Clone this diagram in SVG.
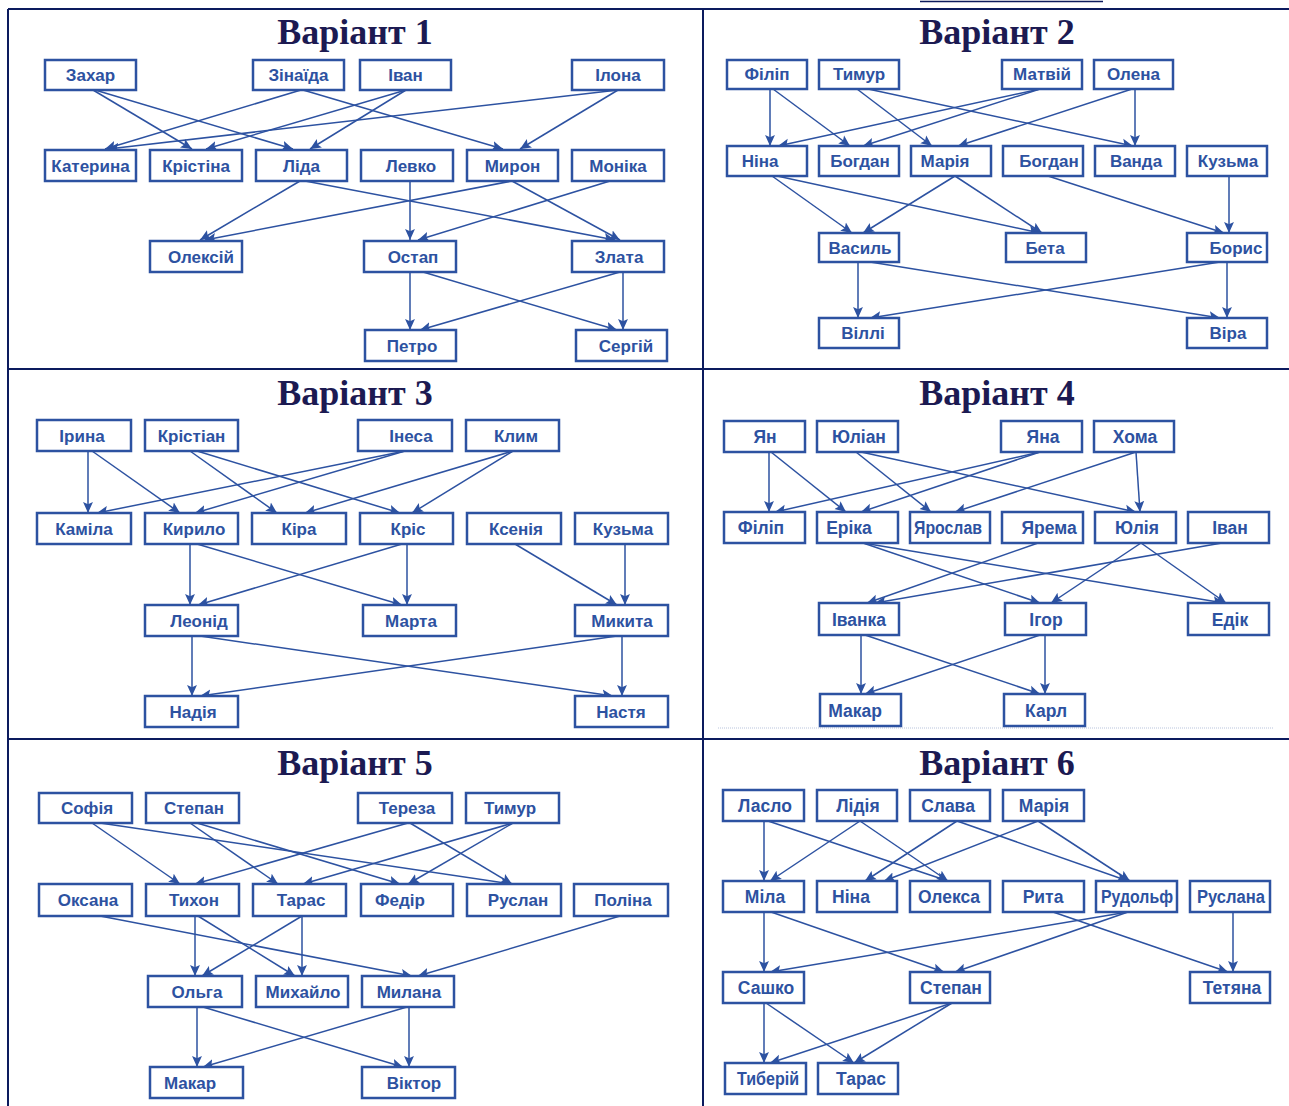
<svg xmlns="http://www.w3.org/2000/svg" width="1289" height="1106" viewBox="0 0 1289 1106">
  <style>
    .grid { stroke: #0c1b5e; stroke-width: 2; fill: none; }
    .title { font-family: "Liberation Serif", "Times New Roman", serif; font-weight: bold; font-size: 36px; fill: #1c1a52; text-anchor: middle; }
    .node rect { fill: #ffffff; stroke: #2d52a1; stroke-width: 2.5; }
    .node text { font-family: "Liberation Sans", Arial, sans-serif; font-weight: bold; font-size: 17px; fill: #2d52a1; text-anchor: middle; }
    .narrow text { font-size: 17.5px; }
    .edges line { stroke: #2d52a1; stroke-width: 1.5; marker-end: url(#arrow); }
  </style>
  <defs>
    <marker id="arrow" viewBox="0 0 10 10" refX="10" refY="5" markerWidth="11" markerHeight="11" markerUnits="userSpaceOnUse" orient="auto">
      <path d="M0,0.5 L10,5 L0,9.5 L2,5 z" fill="#2d52a1"/>
    </marker>
  </defs>
  <rect width="1289" height="1106" fill="#ffffff"/>

  <!-- table frame -->
  <g id="frame" class="grid">
    <line x1="920" y1="1.5" x2="1103" y2="1.5" stroke-width="1.5"/>
    <line x1="8" y1="9" x2="1289" y2="9"/>
    <line x1="8" y1="9" x2="8" y2="1106"/>
    <line x1="703" y1="9" x2="703" y2="1106"/>
    <line x1="8" y1="369" x2="1289" y2="369"/>
    <line x1="8" y1="739" x2="1289" y2="739"/>
    <line x1="718" y1="728" x2="1273" y2="728" stroke="#b9c4dc" stroke-width="1" stroke-dasharray="1 1"/>
  </g>

  <!-- headings -->
  <g id="titles">
    <text class="title" x="355" y="44">Варіант 1</text>
    <text class="title" x="997" y="44">Варіант 2</text>
    <text class="title" x="355" y="405">Варіант 3</text>
    <text class="title" x="997" y="405">Варіант 4</text>
    <text class="title" x="355" y="775">Варіант 5</text>
    <text class="title" x="997" y="775">Варіант 6</text>
  </g>

  <!-- connectors -->
  <g id="connectors" class="edges">
    <!-- variant 1 -->
    <line x1="93" y1="90" x2="192" y2="149"/>
    <line x1="95" y1="90" x2="293" y2="149"/>
    <line x1="301" y1="90" x2="105" y2="149"/>
    <line x1="303" y1="90" x2="503" y2="149"/>
    <line x1="406" y1="90" x2="206" y2="149"/>
    <line x1="406" y1="90" x2="310" y2="149"/>
    <line x1="618" y1="90" x2="108" y2="149"/>
    <line x1="618" y1="90" x2="520" y2="149"/>
    <line x1="300" y1="181" x2="200" y2="240"/>
    <line x1="305" y1="181" x2="615" y2="240"/>
    <line x1="512" y1="181" x2="205" y2="240"/>
    <line x1="512" y1="181" x2="620" y2="240"/>
    <line x1="410" y1="181" x2="410" y2="240"/>
    <line x1="610" y1="181" x2="418" y2="240"/>
    <line x1="410" y1="272" x2="410" y2="330"/>
    <line x1="423" y1="272" x2="617" y2="330"/>
    <line x1="623" y1="272" x2="623" y2="330"/>
    <line x1="620" y1="272" x2="420" y2="330"/>
    <!-- variant 2 -->
    <line x1="770" y1="89" x2="770" y2="146"/>
    <line x1="773" y1="89" x2="850" y2="146"/>
    <line x1="857" y1="89" x2="932" y2="146"/>
    <line x1="868" y1="89" x2="1133" y2="146"/>
    <line x1="1040" y1="89" x2="778" y2="146"/>
    <line x1="1040" y1="89" x2="863" y2="146"/>
    <line x1="1135" y1="89" x2="1135" y2="146"/>
    <line x1="1132" y1="89" x2="958" y2="146"/>
    <line x1="772" y1="176" x2="852" y2="233"/>
    <line x1="777" y1="176" x2="1040" y2="233"/>
    <line x1="955" y1="176" x2="863" y2="233"/>
    <line x1="955" y1="176" x2="1042" y2="233"/>
    <line x1="1048" y1="176" x2="1224" y2="233"/>
    <line x1="1229" y1="176" x2="1229" y2="233"/>
    <line x1="858" y1="262" x2="858" y2="318"/>
    <line x1="870" y1="262" x2="1220" y2="318"/>
    <line x1="1227" y1="262" x2="1227" y2="318"/>
    <line x1="1220" y1="262" x2="870" y2="318"/>
    <!-- variant 3 -->
    <line x1="88" y1="451" x2="88" y2="513"/>
    <line x1="92" y1="451" x2="180" y2="513"/>
    <line x1="190" y1="451" x2="277" y2="513"/>
    <line x1="197" y1="451" x2="400" y2="513"/>
    <line x1="405" y1="451" x2="97" y2="513"/>
    <line x1="405" y1="451" x2="195" y2="513"/>
    <line x1="513" y1="451" x2="305" y2="513"/>
    <line x1="513" y1="451" x2="412" y2="513"/>
    <line x1="190" y1="544" x2="190" y2="605"/>
    <line x1="197" y1="544" x2="402" y2="605"/>
    <line x1="402" y1="544" x2="198" y2="605"/>
    <line x1="407" y1="544" x2="407" y2="605"/>
    <line x1="515" y1="544" x2="617" y2="605"/>
    <line x1="625" y1="544" x2="625" y2="605"/>
    <line x1="192" y1="636" x2="192" y2="696"/>
    <line x1="200" y1="636" x2="613" y2="696"/>
    <line x1="622" y1="636" x2="622" y2="696"/>
    <line x1="617" y1="636" x2="200" y2="696"/>
    <!-- variant 4 -->
    <line x1="769" y1="452" x2="769" y2="512"/>
    <line x1="771" y1="452" x2="846" y2="512"/>
    <line x1="856" y1="452" x2="931" y2="512"/>
    <line x1="861" y1="452" x2="1136" y2="512"/>
    <line x1="1040" y1="452" x2="775" y2="512"/>
    <line x1="1040" y1="452" x2="861" y2="512"/>
    <line x1="1136" y1="452" x2="1140" y2="512"/>
    <line x1="1136" y1="452" x2="955" y2="512"/>
    <line x1="863" y1="543" x2="1040" y2="603"/>
    <line x1="863" y1="543" x2="1224" y2="603"/>
    <line x1="1038" y1="543" x2="867" y2="603"/>
    <line x1="1222" y1="543" x2="875" y2="603"/>
    <line x1="1141" y1="543" x2="1051" y2="603"/>
    <line x1="1141" y1="543" x2="1226" y2="603"/>
    <line x1="861" y1="635" x2="861" y2="694"/>
    <line x1="865" y1="635" x2="1040" y2="694"/>
    <line x1="1045" y1="635" x2="1045" y2="694"/>
    <line x1="1040" y1="635" x2="865" y2="694"/>
    <!-- variant 5 -->
    <line x1="92" y1="823" x2="180" y2="884"/>
    <line x1="100" y1="823" x2="512" y2="884"/>
    <line x1="190" y1="823" x2="278" y2="884"/>
    <line x1="197" y1="823" x2="400" y2="884"/>
    <line x1="408" y1="823" x2="195" y2="884"/>
    <line x1="410" y1="823" x2="512" y2="884"/>
    <line x1="513" y1="823" x2="303" y2="884"/>
    <line x1="513" y1="823" x2="408" y2="884"/>
    <line x1="100" y1="916" x2="412" y2="976"/>
    <line x1="620" y1="916" x2="418" y2="976"/>
    <line x1="195" y1="916" x2="195" y2="976"/>
    <line x1="198" y1="916" x2="295" y2="976"/>
    <line x1="302" y1="916" x2="202" y2="976"/>
    <line x1="302" y1="916" x2="302" y2="976"/>
    <line x1="197" y1="1007" x2="197" y2="1067"/>
    <line x1="203" y1="1007" x2="403" y2="1067"/>
    <line x1="407" y1="1007" x2="203" y2="1067"/>
    <line x1="409" y1="1007" x2="409" y2="1067"/>
    <!-- variant 6 -->
    <line x1="764" y1="821" x2="764" y2="881"/>
    <line x1="768" y1="821" x2="948" y2="881"/>
    <line x1="860" y1="821" x2="770" y2="881"/>
    <line x1="860" y1="821" x2="948" y2="881"/>
    <line x1="957" y1="821" x2="865" y2="881"/>
    <line x1="957" y1="821" x2="1128" y2="881"/>
    <line x1="1038" y1="821" x2="884" y2="881"/>
    <line x1="1038" y1="821" x2="1130" y2="881"/>
    <line x1="764" y1="912" x2="764" y2="972"/>
    <line x1="771" y1="912" x2="944" y2="972"/>
    <line x1="1128" y1="912" x2="770" y2="972"/>
    <line x1="1128" y1="912" x2="955" y2="972"/>
    <line x1="1053" y1="912" x2="1228" y2="972"/>
    <line x1="1233" y1="912" x2="1233" y2="972"/>
    <line x1="764" y1="1003" x2="764" y2="1063"/>
    <line x1="766" y1="1003" x2="854" y2="1063"/>
    <line x1="952" y1="1003" x2="770" y2="1063"/>
    <line x1="952" y1="1003" x2="854" y2="1063"/>
  </g>

  <!-- variant 1 nodes -->
  <g id="v1-zakhar" class="node"><rect x="45" y="60" width="91" height="30"/><text x="90.5" y="81">Захар</text></g>
  <g id="v1-zinaida" class="node"><rect x="253" y="60" width="91" height="30"/><text x="298.5" y="81">Зінаїда</text></g>
  <g id="v1-ivan" class="node"><rect x="360" y="60" width="91" height="30"/><text x="405.5" y="81">Іван</text></g>
  <g id="v1-ilona" class="node"><rect x="572" y="60" width="92" height="30"/><text x="618" y="81">Ілона</text></g>
  <g id="v1-kateryna" class="node"><rect x="45" y="150" width="91" height="31"/><text x="90.5" y="171.5">Катерина</text></g>
  <g id="v1-kristina" class="node"><rect x="150" y="150" width="92" height="31"/><text x="196" y="171.5">Крістіна</text></g>
  <g id="v1-lida" class="node"><rect x="256" y="150" width="91" height="31"/><text x="301.5" y="171.5">Ліда</text></g>
  <g id="v1-levko" class="node"><rect x="361" y="150" width="92" height="31"/><text x="411" y="171.5">Левко</text></g>
  <g id="v1-myron" class="node"><rect x="467" y="150" width="91" height="31"/><text x="512.5" y="171.5">Мирон</text></g>
  <g id="v1-monika" class="node"><rect x="572" y="150" width="92" height="31"/><text x="618" y="171.5">Моніка</text></g>
  <g id="v1-oleksii" class="node"><rect x="150" y="241" width="92" height="31"/><text x="201" y="262.5">Олексій</text></g>
  <g id="v1-ostap" class="node"><rect x="364" y="241" width="92" height="31"/><text x="413" y="262.5">Остап</text></g>
  <g id="v1-zlata" class="node"><rect x="572" y="241" width="92" height="31"/><text x="619" y="262.5">Злата</text></g>
  <g id="v1-petro" class="node"><rect x="365" y="330" width="91" height="31"/><text x="412" y="351.5">Петро</text></g>
  <g id="v1-serhii" class="node"><rect x="576" y="330" width="91" height="31"/><text x="626" y="351.5">Сергій</text></g>

  <!-- variant 2 nodes -->
  <g id="v2-filip" class="node"><rect x="727" y="60" width="80" height="29"/><text x="767" y="80">Філіп</text></g>
  <g id="v2-tymur" class="node"><rect x="819" y="60" width="80" height="29"/><text x="859" y="80">Тимур</text></g>
  <g id="v2-matvii" class="node"><rect x="1002" y="60" width="80" height="29"/><text x="1042" y="80">Матвій</text></g>
  <g id="v2-olena" class="node"><rect x="1094" y="60" width="79" height="29"/><text x="1133.5" y="80">Олена</text></g>
  <g id="v2-nina" class="node"><rect x="727" y="146" width="80" height="30"/><text x="760" y="167">Ніна</text></g>
  <g id="v2-bohdan-a" class="node"><rect x="819" y="146" width="80" height="30"/><text x="860" y="167">Богдан</text></g>
  <g id="v2-mariia" class="node"><rect x="911" y="146" width="80" height="30"/><text x="945" y="167">Марія</text></g>
  <g id="v2-bohdan-b" class="node"><rect x="1003" y="146" width="80" height="30"/><text x="1049" y="167">Богдан</text></g>
  <g id="v2-vanda" class="node"><rect x="1095" y="146" width="80" height="30"/><text x="1136" y="167">Ванда</text></g>
  <g id="v2-kuzma" class="node"><rect x="1187" y="146" width="80" height="30"/><text x="1228" y="167">Кузьма</text></g>
  <g id="v2-vasyl" class="node"><rect x="819" y="233" width="80" height="29"/><text x="860" y="253.5">Василь</text></g>
  <g id="v2-beta" class="node"><rect x="1006" y="233" width="80" height="29"/><text x="1045" y="253.5">Бета</text></g>
  <g id="v2-borys" class="node"><rect x="1187" y="233" width="80" height="29"/><text x="1236" y="253.5">Борис</text></g>
  <g id="v2-villi" class="node"><rect x="819" y="318" width="80" height="30"/><text x="863" y="339">Віллі</text></g>
  <g id="v2-vira" class="node"><rect x="1187" y="318" width="80" height="30"/><text x="1228" y="339">Віра</text></g>

  <!-- variant 3 nodes -->
  <g id="v3-iryna" class="node"><rect x="37" y="420" width="94" height="31"/><text x="82" y="441.5">Ірина</text></g>
  <g id="v3-kristian" class="node"><rect x="145" y="420" width="93" height="31"/><text x="191.5" y="441.5">Крістіан</text></g>
  <g id="v3-inesa" class="node"><rect x="358" y="420" width="94" height="31"/><text x="411" y="441.5">Інеса</text></g>
  <g id="v3-klym" class="node"><rect x="466" y="420" width="93" height="31"/><text x="516" y="441.5">Клим</text></g>
  <g id="v3-kamila" class="node"><rect x="37" y="513" width="94" height="31"/><text x="84" y="534.5">Каміла</text></g>
  <g id="v3-kyrylo" class="node"><rect x="145" y="513" width="93" height="31"/><text x="194" y="534.5">Кирило</text></g>
  <g id="v3-kira" class="node"><rect x="252" y="513" width="94" height="31"/><text x="299" y="534.5">Кіра</text></g>
  <g id="v3-kris" class="node"><rect x="360" y="513" width="93" height="31"/><text x="408" y="534.5">Кріс</text></g>
  <g id="v3-kseniia" class="node"><rect x="467" y="513" width="94" height="31"/><text x="516" y="534.5">Ксенія</text></g>
  <g id="v3-kuzma" class="node"><rect x="575" y="513" width="93" height="31"/><text x="623" y="534.5">Кузьма</text></g>
  <g id="v3-leonid" class="node"><rect x="145" y="605" width="93" height="31"/><text x="199" y="626.5">Леонід</text></g>
  <g id="v3-marta" class="node"><rect x="363" y="605" width="93" height="31"/><text x="411" y="626.5">Марта</text></g>
  <g id="v3-mykyta" class="node"><rect x="575" y="605" width="93" height="31"/><text x="622" y="626.5">Микита</text></g>
  <g id="v3-nadiia" class="node"><rect x="145" y="696" width="93" height="31"/><text x="193" y="717.5">Надія</text></g>
  <g id="v3-nastia" class="node"><rect x="575" y="696" width="93" height="31"/><text x="621" y="717.5">Настя</text></g>

  <!-- variant 4 nodes -->
  <g id="v4-yan" class="node narrow"><rect x="724" y="421" width="81" height="31"/><text x="765" y="443">Ян</text></g>
  <g id="v4-yulian" class="node narrow"><rect x="817" y="421" width="81" height="31"/><text x="859" y="443">Юліан</text></g>
  <g id="v4-yana" class="node narrow"><rect x="1001" y="421" width="81" height="31"/><text x="1043" y="443">Яна</text></g>
  <g id="v4-khoma" class="node narrow"><rect x="1094" y="421" width="80" height="31"/><text x="1135" y="443">Хома</text></g>
  <g id="v4-filip" class="node narrow"><rect x="724" y="512" width="81" height="31"/><text x="761" y="534">Філіп</text></g>
  <g id="v4-erika" class="node narrow"><rect x="817" y="512" width="81" height="31"/><text x="849" y="534">Еріка</text></g>
  <g id="v4-yaroslav" class="node narrow"><rect x="910" y="512" width="80" height="31"/><text x="948" y="534" textLength="68" lengthAdjust="spacingAndGlyphs">Ярослав</text></g>
  <g id="v4-yarema" class="node narrow"><rect x="1002" y="512" width="81" height="31"/><text x="1049" y="534">Ярема</text></g>
  <g id="v4-yuliia" class="node narrow"><rect x="1095" y="512" width="81" height="31"/><text x="1137" y="534">Юлія</text></g>
  <g id="v4-ivan" class="node narrow"><rect x="1188" y="512" width="81" height="31"/><text x="1230" y="534">Іван</text></g>
  <g id="v4-ivanka" class="node narrow"><rect x="819" y="603" width="80" height="32"/><text x="859" y="625.5">Іванка</text></g>
  <g id="v4-ihor" class="node narrow"><rect x="1005" y="603" width="81" height="32"/><text x="1046" y="625.5">Ігор</text></g>
  <g id="v4-edik" class="node narrow"><rect x="1188" y="603" width="81" height="32"/><text x="1230" y="625.5">Едік</text></g>
  <g id="v4-makar" class="node narrow"><rect x="820" y="694" width="81" height="32"/><text x="855" y="716.5">Макар</text></g>
  <g id="v4-karl" class="node narrow"><rect x="1004" y="694" width="81" height="32"/><text x="1046" y="716.5">Карл</text></g>

  <!-- variant 5 nodes -->
  <g id="v5-sofiia" class="node"><rect x="39" y="793" width="93" height="30"/><text x="87" y="814">Софія</text></g>
  <g id="v5-stepan" class="node"><rect x="146" y="793" width="93" height="30"/><text x="194" y="814">Степан</text></g>
  <g id="v5-tereza" class="node"><rect x="358" y="793" width="94" height="30"/><text x="407" y="814">Тереза</text></g>
  <g id="v5-tymur" class="node"><rect x="466" y="793" width="93" height="30"/><text x="510" y="814">Тимур</text></g>
  <g id="v5-oksana" class="node"><rect x="39" y="884" width="93" height="32"/><text x="88" y="906">Оксана</text></g>
  <g id="v5-tykhon" class="node"><rect x="146" y="884" width="93" height="32"/><text x="194" y="906">Тихон</text></g>
  <g id="v5-taras" class="node"><rect x="253" y="884" width="93" height="32"/><text x="301" y="906">Тарас</text></g>
  <g id="v5-fedir" class="node"><rect x="361" y="884" width="92" height="32"/><text x="400" y="906">Федір</text></g>
  <g id="v5-ruslan" class="node"><rect x="467" y="884" width="94" height="32"/><text x="518" y="906">Руслан</text></g>
  <g id="v5-polina" class="node"><rect x="574" y="884" width="94" height="32"/><text x="623" y="906">Поліна</text></g>
  <g id="v5-olha" class="node"><rect x="148" y="976" width="94" height="31"/><text x="197" y="997.5">Ольга</text></g>
  <g id="v5-mykhailo" class="node"><rect x="256" y="976" width="92" height="31"/><text x="303" y="997.5">Михайло</text></g>
  <g id="v5-mylana" class="node"><rect x="362" y="976" width="92" height="31"/><text x="409" y="997.5">Милана</text></g>
  <g id="v5-makar" class="node"><rect x="150" y="1067" width="93" height="31"/><text x="190" y="1088.5">Макар</text></g>
  <g id="v5-viktor" class="node"><rect x="362" y="1067" width="93" height="31"/><text x="414" y="1088.5">Віктор</text></g>

  <!-- variant 6 nodes -->
  <g id="v6-laslo" class="node narrow"><rect x="723" y="790" width="81" height="31"/><text x="765" y="812">Ласло</text></g>
  <g id="v6-lidiia" class="node narrow"><rect x="817" y="790" width="80" height="31"/><text x="858" y="812">Лідія</text></g>
  <g id="v6-slava" class="node narrow"><rect x="910" y="790" width="80" height="31"/><text x="948" y="812">Слава</text></g>
  <g id="v6-mariia" class="node narrow"><rect x="1003" y="790" width="81" height="31"/><text x="1044" y="812">Марія</text></g>
  <g id="v6-mila" class="node narrow"><rect x="723" y="881" width="81" height="31"/><text x="765" y="903">Міла</text></g>
  <g id="v6-nina" class="node narrow"><rect x="817" y="881" width="80" height="31"/><text x="851" y="903">Ніна</text></g>
  <g id="v6-oleksa" class="node narrow"><rect x="910" y="881" width="80" height="31"/><text x="949" y="903">Олекса</text></g>
  <g id="v6-ryta" class="node narrow"><rect x="1003" y="881" width="81" height="31"/><text x="1043" y="903">Рита</text></g>
  <g id="v6-rudolf" class="node narrow"><rect x="1096" y="881" width="81" height="31"/><text x="1137" y="903" textLength="72" lengthAdjust="spacingAndGlyphs">Рудольф</text></g>
  <g id="v6-ruslana" class="node narrow"><rect x="1190" y="881" width="80" height="31"/><text x="1231" y="903" textLength="68" lengthAdjust="spacingAndGlyphs">Руслана</text></g>
  <g id="v6-sashko" class="node narrow"><rect x="723" y="972" width="81" height="31"/><text x="766" y="994">Сашко</text></g>
  <g id="v6-stepan" class="node narrow"><rect x="910" y="972" width="80" height="31"/><text x="951" y="994">Степан</text></g>
  <g id="v6-tetiana" class="node narrow"><rect x="1190" y="972" width="80" height="31"/><text x="1232" y="994">Тетяна</text></g>
  <g id="v6-tiberii" class="node narrow"><rect x="725" y="1063" width="81" height="31"/><text x="768" y="1085" textLength="62" lengthAdjust="spacingAndGlyphs">Тиберій</text></g>
  <g id="v6-taras" class="node narrow"><rect x="818" y="1063" width="80" height="31"/><text x="861" y="1085">Тарас</text></g>
</svg>
